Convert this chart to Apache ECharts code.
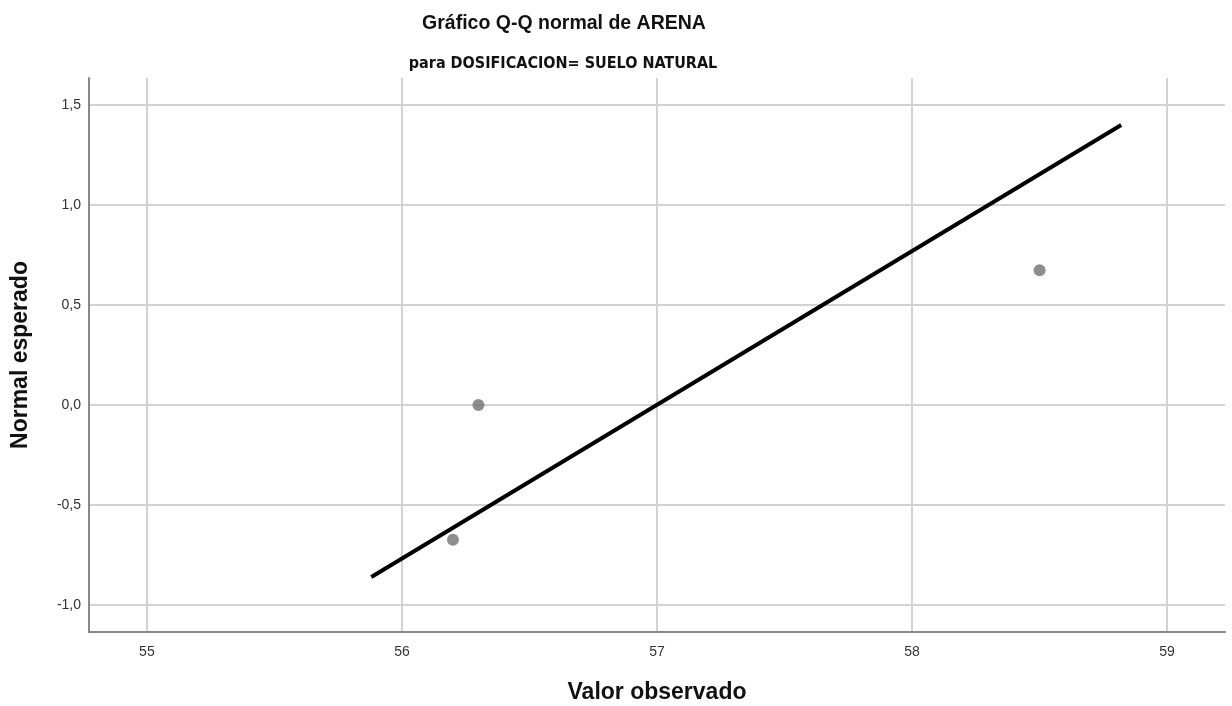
<!DOCTYPE html>
<html>
<head>
<meta charset="utf-8">
<script src="https://cdn.jsdelivr.net/npm/echarts@6/dist/echarts.min.js"></script>
<style>
  html, body { margin: 0; padding: 0; background: #fff; }
  #chart { width: 1232px; height: 706px; }
</style>
</head>
<body>
<div id="chart"></div>
<script>
// Observed values of ARENA and their expected normal scores
const observed = [56.2, 56.3, 58.5];
const expected = [-0.674, 0.0, 0.674];

// Reference line endpoints
const refLineX = [55.88, 58.82];
const refLineY = [-0.86, 1.40];

// Axis ranges
const xRange = [54.773, 59.227];
const yRange = [-1.135, 1.635];

const points = observed.map((v, i) => [v, expected[i]]);
const refLine = refLineX.map((v, i) => [v, refLineY[i]]);

const chart = echarts.init(document.getElementById('chart'), null, { renderer: 'canvas' });

const font = 'Arial, "Liberation Sans", sans-serif';

chart.setOption({
  animation: false,
  backgroundColor: '#ffffff',
  title: [
    {
      text: 'Gráfico Q-Q normal de ARENA',
      left: 559, top: 9, textAlign: 'center',
      textStyle: { fontFamily: font, fontSize: 19.5, fontWeight: 'bold', color: '#111' }
    },
    {
      text: 'para DOSIFICACION= SUELO NATURAL',
      left: 558, top: 51, textAlign: 'center',
      textStyle: { fontFamily: '"DejaVu Sans Condensed", ' + font, fontSize: 16, fontWeight: 'bold', color: '#111' }
    }
  ],
  grid: { left: 89, right: 7, top: 78, bottom: 74, containLabel: false, outerBoundsMode: 'none' },
  xAxis: {
    type: 'value',
    min: xRange[0], max: xRange[1],
    splitNumber: 5,
    name: 'Valor observado',
    nameLocation: 'middle',
    nameGap: 49,
    nameTextStyle: { fontFamily: font, fontSize: 23, fontWeight: 'bold', color: '#111' },
    axisLine: { show: true, onZero: false, lineStyle: { color: '#888', width: 2 } },
    axisTick: { show: false },
    axisLabel: {
      showMinLabel: false, showMaxLabel: false,
      margin: 13,
      fontFamily: font, fontSize: 14, color: '#333',
      formatter: v => String(Math.round(v))
    },
    splitLine: { show: true, showMinLine: false, showMaxLine: false, lineStyle: { color: '#d2d2d2', width: 2 } }
  },
  yAxis: {
    type: 'value',
    min: yRange[0], max: yRange[1],
    splitNumber: 5,
    name: 'Normal esperado',
    nameLocation: 'middle',
    nameGap: 57,
    nameTextStyle: { fontFamily: font, fontSize: 23, fontWeight: 'bold', color: '#111' },
    axisLine: { show: true, onZero: false, lineStyle: { color: '#888', width: 2 } },
    axisTick: { show: false },
    axisLabel: {
      showMinLabel: false, showMaxLabel: false,
      margin: 8,
      fontFamily: font, fontSize: 14, color: '#333',
      formatter: v => v.toFixed(1).replace('.', ',')
    },
    splitLine: { show: true, showMinLine: false, showMaxLine: false, lineStyle: { color: '#d2d2d2', width: 2 } }
  },
  series: [
    {
      type: 'line',
      data: refLine,
      symbol: 'none',
      lineStyle: { color: '#000', width: 4 },
      silent: true,
      z: 3
    },
    {
      type: 'scatter',
      data: points,
      symbol: 'circle',
      symbolSize: 12,
      itemStyle: { color: '#727272' },
      z: 4
    }
  ]
});
</script>
</body>
</html>
